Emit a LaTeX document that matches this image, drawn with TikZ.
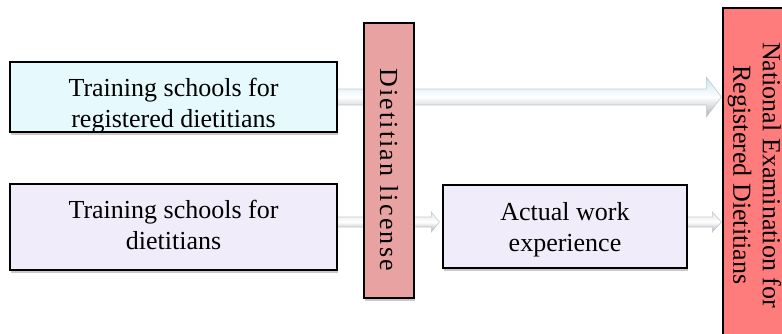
\documentclass[tikz,border=0pt]{standalone}
\usepackage{fontspec}
\setmainfont{Liberation Serif}
\usetikzlibrary{calc,shadows}
\pgfdeclarelayer{bg}
\pgfsetlayers{bg,main}

\definecolor{cyanbox}{HTML}{E6F9FD}
\definecolor{lilacbox}{HTML}{F1ECF9}
\definecolor{licbox}{HTML}{E8A2A2}
\definecolor{exambox}{HTML}{FF7C7C}
\definecolor{arrowblue}{HTML}{C8E6F2}
\definecolor{arrowgrey}{HTML}{A9B0B7}
\definecolor{arrowline}{HTML}{C4C8CC}

% block arrow: #1 style, #2 start, #3 tip, #4 half shaft, #5 half head, #6 head length
\newcommand\fatarrow[6]{%
  \path[#1] let \p1=#2, \p2=#3 in
    (\x1,\y1+#4) -- (\x2-#6,\y1+#4) -- (\x2-#6,\y1+#5) -- (\x2,\y1)
    -- (\x2-#6,\y1-#5) -- (\x2-#6,\y1-#4) -- (\x1,\y1-#4) -- cycle;}

% two centred lines, moved down by #1 without changing the box size
\newcommand\shiftedlines[2]{%
  \raisebox{-#1}[\height][\depth]{\begin{tabular}{@{}c@{}}#2\end{tabular}}}

\begin{document}
\begin{tikzpicture}[x=1pt,y=-1pt,
  box/.style={draw=black, line width=1.3pt, inner sep=0pt, align=center,
    font=\fontsize{26}{31}\selectfont,
    drop shadow={shadow xshift=1pt, shadow yshift=-3pt, opacity=0.3, fill=black!70}},
  bluearrow/.style={draw=arrowline, line width=0.6pt,
    top color=arrowblue, bottom color=arrowgrey, middle color=white},
  greyarrow/.style={draw=arrowline, line width=0.6pt,
    top color=black!10, bottom color=arrowgrey, middle color=white}]
\useasboundingbox (0,0) rectangle (782,333);
\clip (0,0) rectangle (782,333);

% boxes
\node[box, fill=cyanbox, minimum width=327pt, minimum height=70pt]
  (train1) at (173.5,97)
  {\shiftedlines{9pt}{Training schools for\\registered dietitians}};
\node[box, fill=lilacbox, minimum width=327pt, minimum height=86pt]
  (train2) at (173.5,227)
  {\shiftedlines{1pt}{Training schools for\\dietitians}};
\node[box, fill=licbox, minimum width=50pt, minimum height=275pt]
  (lic) at (389,160.5)
  {\rotatebox{-90}{\addfontfeature{LetterSpace=8.5}\hspace*{18pt}Dietitian license}};
\node[box, fill=lilacbox, minimum width=244pt, minimum height=83pt]
  (work) at (565,226.5)
  {\shiftedlines{3pt}{Actual work\\experience}};
\node[box, fill=exambox, minimum width=68pt, minimum height=334pt]
  (exam) at (757,175)
  {\rotatebox{-90}{\fontsize{26}{29.5}\selectfont
   \shiftedlines{3pt}{National Examination for\\Registered Dietitians}}};

% connectors
\begin{pgfonlayer}{bg}
  \fatarrow{bluearrow}{(train1.east)}{($(exam.west |- train1.east)+(-1,0)$)}{8}{20}{15}
  \coordinate (low) at ($(train2.east)+(0,-5)$);
  \fatarrow{greyarrow}{(low)}{($(work.west |- low)+(-3,0)$)}{5}{10}{8}
  \fatarrow{greyarrow}{(work.east |- low)}{($(exam.west |- low)+(-1,0)$)}{5}{10}{9}
\end{pgfonlayer}
\end{tikzpicture}
\end{document}
